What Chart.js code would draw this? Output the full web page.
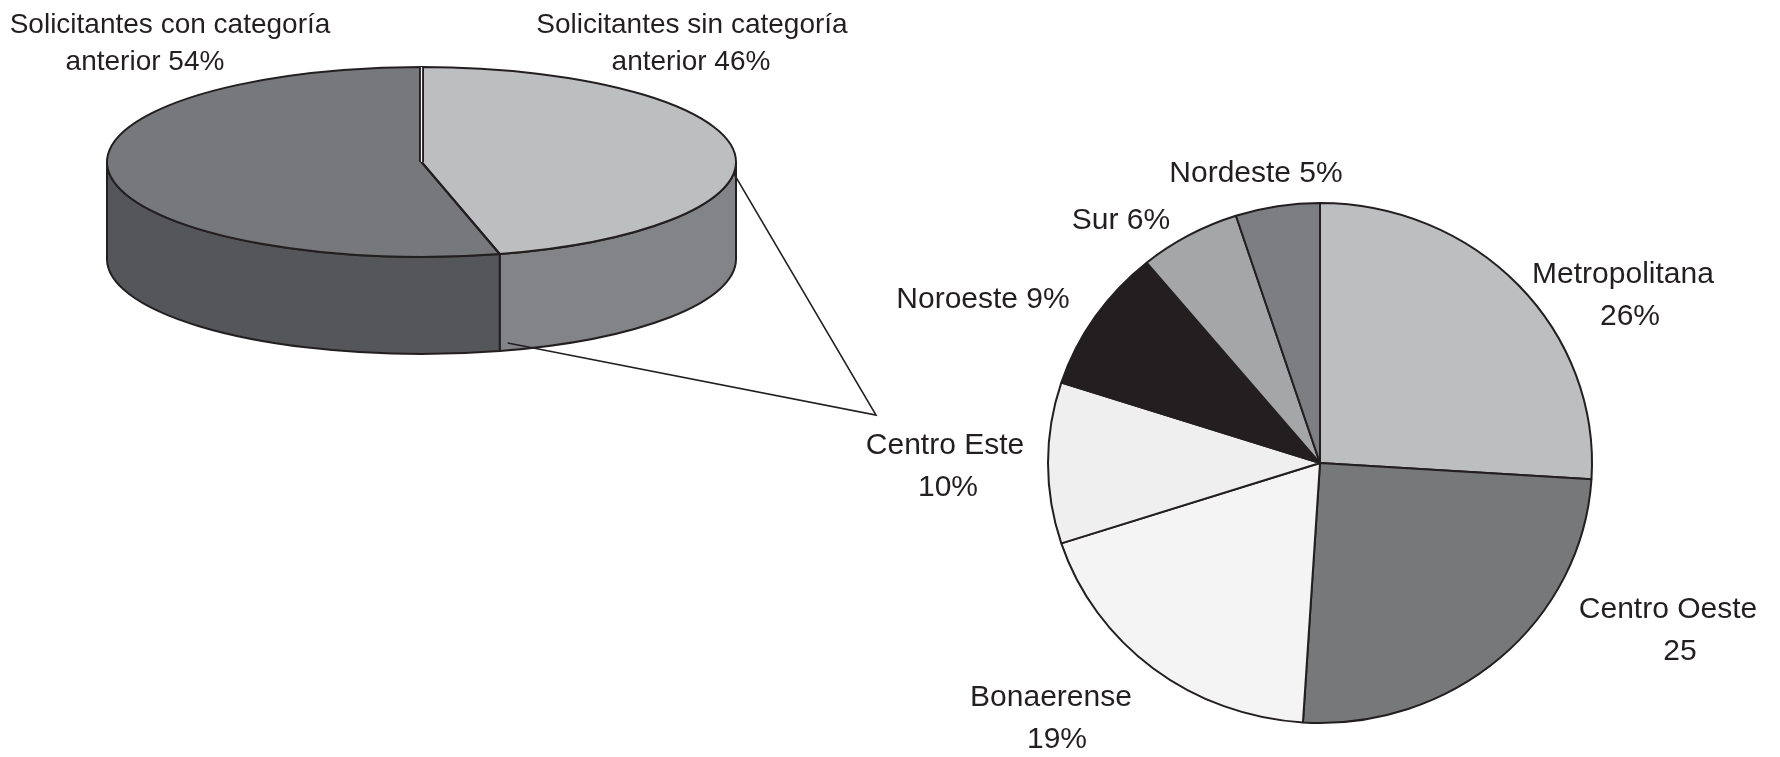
<!DOCTYPE html>
<html>
<head>
<meta charset="utf-8">
<script src="https://cdn.jsdelivr.net/npm/chart.js@4.4.1/dist/chart.umd.min.js"></script>
<style>
  body { margin: 0; background: #fff; }
  #wrap { position: relative; width: 1780px; height: 757px; }
  canvas { position: absolute; left: 0; top: 0; }
</style>
</head>
<body>
<div id="wrap">
  <canvas id="solicitantes" width="1780" height="757"></canvas>
  <canvas id="regiones" width="1780" height="757"></canvas>
</div>
<script>
// solicitantes, con o sin categoría anterior
const solNames = ["Solicitantes sin categoría anterior", "Solicitantes con categoría anterior"];
const solValues = [46, 54];
const solLines = [["Solicitantes sin categoría", "anterior"], ["Solicitantes con categoría", "anterior"]];

// solicitantes sin categoría, por región
const regionNames = ["Metropolitana", "Centro Oeste", "Bonaerense", "Centro Este", "Noroeste", "Sur", "Nordeste"];
const regionValues = [26, 25, 19, 10, 9, 6, 5];
const regionValueText = ["26%", "25", "19%", "10%", "9%", "6%", "5%"];
const regionTwoLines = [true, true, true, true, false, false, false];

const ink = "#231f20";
const fontFamily = "'Liberation Sans', Arial, sans-serif";

// colores
const solTopColors = ["#bdbec0", "#77787b"];
const solSideColors = ["#838487", "#55565a"];
const regionColors = ["#bdbec0", "#77787a", "#f4f4f4", "#efefef", "#231f20", "#a4a6a8", "#7d7e81"];

// geometría de la torta 3d (cara superior y alto del cilindro)
const solShape = { x: 421.5, y: 162, rx: 314.5, ry: 95, depth: 97 };
const regionShape = { x: 1320, y: 463, rx: 272, ry: 260 };

// posiciones de los textos, una por línea
const solLabelPos = [[[692, 25], [691, 62]], [[170, 25], [145, 62]]];
const regionLabelPos = [
  [[1623, 275], [1630, 317]],
  [[1668, 610], [1680, 652]],
  [[1051, 698], [1057, 740]],
  [[945, 446], [948, 488]],
  [[983, 300]],
  [[1121, 221]],
  [[1256, 174]]
];
const leaderTip = { x: 876, y: 415 };

// lleva el círculo que dibuja Chart.js a la elipse pedida
const toEllipse = (ctx, arc, shape) => {
  ctx.translate(shape.x, shape.y);
  ctx.scale(shape.rx / arc.outerRadius, shape.ry / arc.outerRadius);
  ctx.translate(-arc.x, -arc.y);
};

const drawLines = (ctx, lines, pos, size) => {
  ctx.font = size + "px " + fontFamily;
  ctx.fillStyle = ink;
  ctx.textAlign = "center";
  ctx.textBaseline = "middle";
  lines.forEach((t, i) => ctx.fillText(t, pos[i][0], pos[i][1]));
};

const pie3d = {
  id: "pie3d",
  beforeDatasetsDraw(chart) {
    const ctx = chart.ctx;
    const arcs = chart.getDatasetMeta(0).data;
    const e = solShape;
    // paredes del cilindro, solo la mitad de adelante
    arcs.forEach((arc, i) => {
      const a0 = Math.max(arc.startAngle, 0);
      const a1 = Math.min(arc.endAngle, Math.PI);
      if (a1 <= a0) return;
      ctx.beginPath();
      ctx.ellipse(e.x, e.y, e.rx, e.ry, 0, a0, a1);
      ctx.ellipse(e.x, e.y + e.depth, e.rx, e.ry, 0, a1, a0, true);
      ctx.closePath();
      ctx.fillStyle = solSideColors[i];
      ctx.fill();
      ctx.lineWidth = 2;
      ctx.strokeStyle = ink;
      ctx.stroke();
    });
    ctx.save();
    toEllipse(ctx, arcs[0], e);
  },
  afterDatasetsDraw(chart) {
    const ctx = chart.ctx;
    ctx.restore();
    const arcs = chart.getDatasetMeta(0).data;
    const e = solShape;
    ctx.lineJoin = "round";
    arcs.forEach((arc) => {
      ctx.beginPath();
      ctx.moveTo(e.x, e.y);
      ctx.ellipse(e.x, e.y, e.rx, e.ry, 0, arc.startAngle, arc.endAngle);
      ctx.closePath();
      ctx.lineWidth = 2;
      ctx.strokeStyle = ink;
      ctx.stroke();
    });
    // junta blanca en el corte de arriba
    const s = arcs[0].startAngle;
    const sx = e.x + e.rx * Math.cos(s), sy = e.y + e.ry * Math.sin(s);
    ctx.beginPath();
    ctx.moveTo(e.x, e.y);
    ctx.lineTo(sx, sy);
    ctx.lineWidth = 5;
    ctx.strokeStyle = ink;
    ctx.stroke();
    ctx.lineWidth = 1.2;
    ctx.strokeStyle = "#fff";
    ctx.stroke();

    // líneas que llevan a la torta de regiones
    const b = arcs[0].endAngle;
    const ax = e.x + e.rx * Math.cos(0.12), ay = e.y + e.ry * Math.sin(0.12);
    const bx = e.x + e.rx * Math.cos(b) + 8, by = e.y + e.depth + e.ry * Math.sin(b) - 8;
    ctx.beginPath();
    ctx.moveTo(ax, ay);
    ctx.lineTo(leaderTip.x, leaderTip.y);
    ctx.lineTo(bx, by);
    ctx.lineWidth = 1.6;
    ctx.lineJoin = "miter";
    ctx.strokeStyle = ink;
    ctx.stroke();

    solLines.forEach((lines, i) => {
      drawLines(ctx, [lines[0], lines[1] + " " + solValues[i] + "%"], solLabelPos[i], 28);
    });
  }
};

const squash = {
  id: "squash",
  beforeDatasetsDraw(chart) {
    chart.ctx.save();
    toEllipse(chart.ctx, chart.getDatasetMeta(0).data[0], regionShape);
  },
  afterDatasetsDraw(chart) {
    const ctx = chart.ctx;
    ctx.restore();
    regionNames.forEach((name, i) => {
      const lines = regionTwoLines[i]
        ? [name, regionValueText[i]]
        : [name + " " + regionValueText[i]];
      drawLines(ctx, lines, regionLabelPos[i], 30);
    });
  }
};

const baseOptions = (padding) => ({
  responsive: false,
  animation: false,
  devicePixelRatio: 1,
  layout: { padding },
  plugins: { legend: { display: false }, tooltip: { enabled: false } }
});

new Chart(document.getElementById("solicitantes"), {
  type: "pie",
  data: {
    labels: solNames,
    datasets: [{ data: solValues, backgroundColor: solTopColors, borderWidth: 0, clip: false }]
  },
  options: baseOptions({ left: 107, right: 1044, top: 64, bottom: 64 }),
  plugins: [pie3d]
});

new Chart(document.getElementById("regiones"), {
  type: "pie",
  data: {
    labels: regionNames,
    datasets: [{ data: regionValues, backgroundColor: regionColors, borderColor: ink, borderWidth: 2, clip: false }]
  },
  options: baseOptions({ left: 1048, right: 188, top: 191, bottom: 22 }),
  plugins: [squash]
});
</script>
</body>
</html>
